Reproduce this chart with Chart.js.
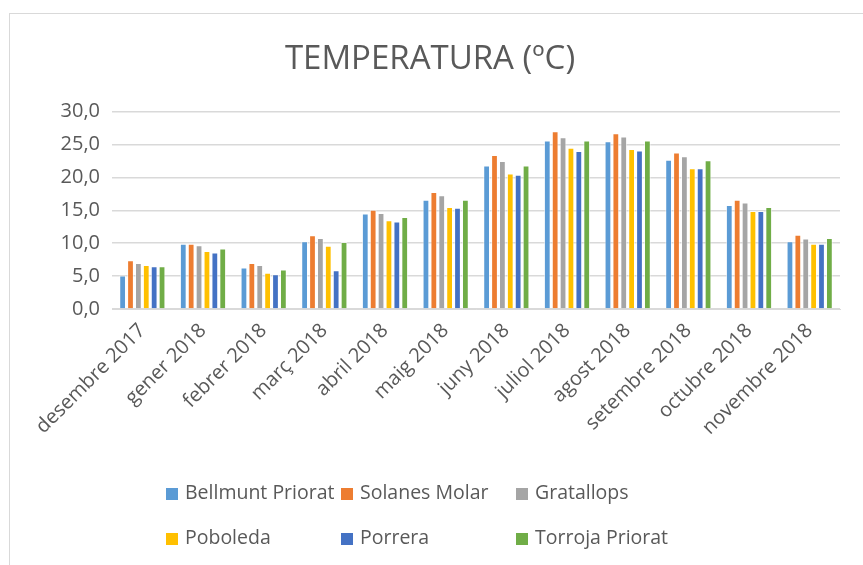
<!DOCTYPE html>
<html>
<head>
<meta charset="utf-8">
<script src="https://cdn.jsdelivr.net/npm/chart.js@4/dist/chart.umd.min.js"></script>
<style>
  html,body{margin:0;padding:0;background:#fff;overflow:hidden}
  #wrap{position:relative;width:863px;height:565px}
  #frame{position:absolute;left:9px;top:13px;width:900px;height:600px;border:1px solid #d9d9d9;box-sizing:border-box}
  canvas{position:absolute;left:0;top:0}
  #legend{position:absolute;left:0;top:0;font-family:"Open Sans",sans-serif;font-size:19.5px;color:#595959}
  .li{position:absolute;white-space:nowrap;line-height:20px}
  .li span{display:inline-block;width:12px;height:12px;margin-right:7px;vertical-align:-1px}
</style>
</head>
<body>
<div id="wrap">
  <div id="frame"></div>
  <canvas id="c" width="863" height="565"></canvas>
  <div id="legend"></div>
</div>
<script>
// ===== data =====
const MONTHS=['desembre 2017','gener 2018','febrer 2018','març 2018','abril 2018','maig 2018','juny 2018','juliol 2018','agost 2018','setembre 2018','octubre 2018','novembre 2018'];
const SERIES=['Bellmunt Priorat','Solanes Molar','Gratallops','Poboleda','Porrera','Torroja Priorat'];
const BELLMUNT=[5.1,9.9,6.3,10.3,14.5,16.6,21.8,25.6,25.5,22.7,15.8,10.3];
const SOLANES=[7.4,9.9,7.0,11.2,15.1,17.8,23.4,27.0,26.7,23.8,16.6,11.3];
const GRATALLOPS=[7.0,9.7,6.7,10.8,14.6,17.3,22.5,26.1,26.2,23.2,16.2,10.7];
const POBOLEDA=[6.7,8.8,5.5,9.6,13.5,15.5,20.6,24.5,24.3,21.4,14.9,9.9];
const PORRERA=[6.5,8.6,5.3,5.9,13.3,15.4,20.4,24.0,24.1,21.4,14.9,9.9];
const TORROJA=[6.5,9.2,6.0,10.2,14.0,16.6,21.8,25.6,25.6,22.6,15.5,10.8];
const COLORS=['#5b9bd5','#ed7d31','#a5a5a5','#ffc000','#4472c4','#70ad47'];
const VALUES=[BELLMUNT,SOLANES,GRATALLOPS,POBOLEDA,PORRERA,TORROJA];

const FONT='"Open Sans", sans-serif', TXT='#595959';

const datasets=SERIES.map((name,i)=>({label:name,data:VALUES[i],backgroundColor:COLORS[i],
  borderColor:'rgba(255,255,255,0.6)',borderWidth:{left:1,right:1,top:1,bottom:0},
  categoryPercentage:0.78,barPercentage:0.86}));

new Chart(document.getElementById('c'),{
  type:'bar',
  data:{labels:MONTHS,datasets},
  options:{
    responsive:false,animation:false,
    layout:{padding:{left:20,right:23,top:40,bottom:106}},
    plugins:{
      legend:{display:false},tooltip:{enabled:false},
      title:{display:true,text:'TEMPERATURA (ºC)',color:TXT,font:{family:FONT,size:33,weight:'normal'},padding:{top:0,bottom:32}}
    },
    scales:{
      x:{
        grid:{display:false},border:{color:'#d9d9d9',width:1},
        ticks:{color:TXT,font:{family:FONT,size:20},minRotation:45,maxRotation:45,padding:2},
        afterFit:s=>{s.height=150;}
      },
      y:{
        min:0,max:30,
        grid:{color:'#d9d9d9',lineWidth:1.5,drawTicks:false},border:{display:false},
        ticks:{stepSize:5,color:TXT,font:{family:FONT,size:20},padding:12,
          callback:v=>v.toFixed(1).replace('.',',')},
        afterFit:s=>{s.width=92;}
      }
    }
  }
});

// ===== legend (3 columns x 2 rows) =====
const lg=document.getElementById('legend');
const COLX=[166,341,516], ROWY=[482,527];
SERIES.forEach((name,i)=>{
  const d=document.createElement('div');d.className='li';
  d.style.left=COLX[i%3]+'px';d.style.top=ROWY[Math.floor(i/3)]+'px';
  d.innerHTML=`<span style="background:${COLORS[i]}"></span>${name}`;
  lg.appendChild(d);
});
</script>
</body>
</html>
